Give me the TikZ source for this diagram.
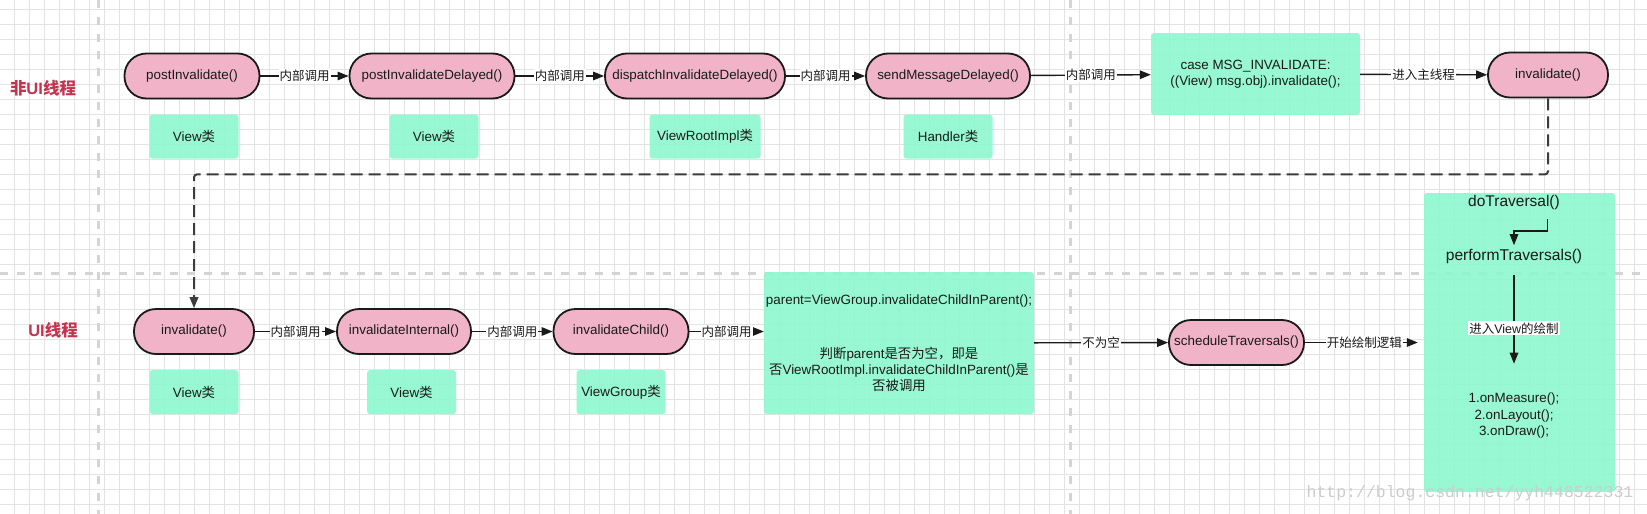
\documentclass[tikz,border=0pt]{standalone}
\usepackage{fontspec}
\setmainfont{Liberation Sans}
\setmonofont{Liberation Mono}
\newfontfamily\cjk{Noto Sans CJK SC}
\newcommand{\zh}[1]{{\cjk #1}}
\usepackage{tikz}
\usetikzlibrary{positioning, arrows.meta, calc}
\definecolor{flPink}{HTML}{F1B3C7}
\definecolor{flMint}{HTML}{8AF8CE}
\definecolor{flInk}{HTML}{1A1A1A}
\definecolor{flRed}{HTML}{C43450}
\definecolor{flGrid}{HTML}{E3E3E3}
\definecolor{flLane}{HTML}{D4D4D4}

\begin{document}
\begin{tikzpicture}[
    x=1pt, y=-1pt,
    >={Triangle[length=11pt,width=8.5pt]},
    font=\fontsize{13.4}{16}\selectfont,
    call/.style ={draw=flInk, line width=1.8pt, fill=flPink, rounded corners=22pt, minimum height=45pt, inner sep=2pt, text=flInk},
    cls/.style  ={fill=flMint, fill opacity=0.88, text opacity=1, rounded corners=3pt, minimum width=89pt, minimum height=44pt, text=flInk},
    note/.style ={fill=flMint, fill opacity=0.88, text opacity=1, rounded corners=3pt, align=center, inner xsep=2pt, text=flInk},
    lane/.style ={text=flRed, font=\fontsize{16.5}{19}\selectfont\bfseries},
    lbl/.style  ={fill=white, inner sep=1pt, text=flInk, font=\fontsize{12.5}{15}\selectfont},
    arr/.style  ={->, line width=1.4pt, flInk},
    jump/.style ={->, line width=2pt, draw=flInk!85, dash pattern=on 12pt off 6pt, rounded corners=3pt},
    sep/.style  ={line width=3pt, flLane, dash pattern=on 8pt off 9pt},
]

% ---- Canvas and grid ----
\fill[white] (0,0) rectangle (1647,514);
\useasboundingbox (0,0) rectangle (1647,514);
\foreach \gx in {14,29,...,1646} \draw[flGrid, line width=0.8pt] (\gx,0) -- (\gx,514);
\foreach \gy in {9,24,...,513} \draw[flGrid, line width=0.8pt] (0,\gy) -- (1647,\gy);
\draw[sep] (98,0) -- (98,514);
\draw[sep] (1070,0) -- (1070,514);
\draw[sep] (0,273) -- (1647,273);

% ---- Lane titles ----
\node[lane] (nonUi) at (43,88) {\zh{非}UI\zh{线程}};
\node[lane] (uiLane) at (53,330) {UI\zh{线程}};

% ---- Non-UI thread ----
\node[call, minimum width=135pt] (postInv) at (192,76) {postInvalidate()};
\node[call, minimum width=165pt] (postInvDel) at (432,76) {postInvalidateDelayed()};
\node[call, minimum width=180pt] (dispInvDel) at (695,76) {dispatchInvalidateDelayed()};
\node[call, minimum width=164pt] (sendMsgDel) at (948,76) {sendMessageDelayed()};
\node[note, minimum width=209pt, minimum height=82pt] (caseMsg) at (1255.5,74)
  {case MSG\_INVALIDATE:\\((View) msg.obj).invalidate();};
\node[call, minimum width=120pt] (invMain) at (1548,75) {invalidate()};

\node[cls, below=15pt of postInv, xshift=2pt] (postInvCls) {View\zh{类}};
\node[cls, below=15pt of postInvDel, xshift=2pt] (postInvDelCls) {View\zh{类}};
\node[cls, minimum width=111pt, below=15pt of dispInvDel, xshift=10pt] (dispCls) {ViewRootImpl\zh{类}};
\node[cls, below=15pt of sendMsgDel] (sendCls) {Handler\zh{类}};

\draw[arr] (postInv) -- node[lbl]{\zh{内部调用}} (postInvDel);
\draw[arr] (postInvDel) -- node[lbl]{\zh{内部调用}} (dispInvDel);
\draw[arr] (dispInvDel) -- node[lbl]{\zh{内部调用}} (sendMsgDel);
\draw[arr] (sendMsgDel) -- node[lbl]{\zh{内部调用}} (caseMsg);
\draw[arr] (caseMsg) -- node[lbl]{\zh{进入主线程}} (invMain);

% ---- UI thread ----
\node[call, minimum width=120pt] (invUi) at (194,331.5) {invalidate()};
\node[call, minimum width=134pt] (invInt) at (404,331.5) {invalidateInternal()};
\node[call, minimum width=135pt] (invChild) at (621,331.5) {invalidateChild()};
\node[note, minimum width=270pt, minimum height=142pt] (parentChk) at (899,343)
  {parent=ViewGroup.invalidateChildInParent();\\[38pt]
   \zh{判断}parent\zh{是否为空，即是}\\
   \zh{否}ViewRootImpl.invalidateChildInParent()\zh{是}\\
   \zh{否被调用}};
\node[call, minimum width=135pt] (schedTr) at (1236.5,342.5) {scheduleTraversals()};

\node[cls, below=15pt of invUi] (invUiCls) {View\zh{类}};
\node[cls, below=15pt of invInt, xshift=7.5pt] (invIntCls) {View\zh{类}};
\node[cls, below=15pt of invChild] (invChildCls) {ViewGroup\zh{类}};

\draw[jump] (invMain.south) -- ++(0,76) -| (invUi.north);
\draw[arr] (invUi) -- node[lbl]{\zh{内部调用}} (invInt);
\draw[arr] (invInt) -- node[lbl]{\zh{内部调用}} (invChild);
\draw[arr] (invChild.east) -- node[lbl]{\zh{内部调用}} (invChild.east -| parentChk.west);
\draw[arr] (parentChk) -- node[lbl]{\zh{不为空}} (schedTr);

% ---- Traversal block ----
\node[note, minimum width=191pt, minimum height=299pt] (drawBox) at (1519.5,342.5) {};
\node[text=flInk, font=\fontsize{15.5}{18}\selectfont] (doTr) at (1514,202) {doTraversal()};
\node[text=flInk, font=\fontsize{15.6}{18}\selectfont] (perfTr) at (1514,256) {performTraversals()};
\node[text=flInk, align=center, font=\fontsize{13.4}{16.5}\selectfont] (steps) at (1514,416)
  {1.onMeasure();\\2.onLayout();\\3.onDraw();};
\coordinate (doTrOut) at (1547.5,219);

\draw[arr, shorten >=6pt] (schedTr) -- node[lbl]{\zh{开始绘制逻辑}} (drawBox);
\draw[arr] (doTrOut) -- ++(0,12) -| (perfTr.north);
\draw[arr, shorten <=8pt, shorten >=26pt] (perfTr) -- node[lbl]{\zh{进入}View\zh{的绘制}} (steps);

% ---- Watermark ----
\node[text=gray!40, font=\ttfamily\fontsize{16.5}{18}\selectfont] (mark) at (1470,493) {http://blog.csdn.net/yyh448522331};

\end{tikzpicture}
\end{document}
